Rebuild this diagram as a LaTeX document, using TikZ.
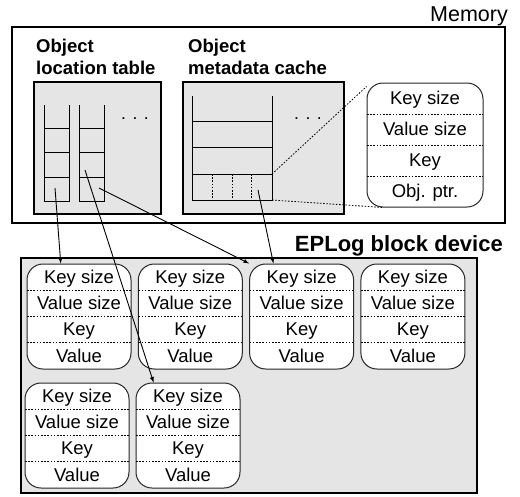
\documentclass[tikz,border=0pt]{standalone}
\usepackage{fontspec}
\setmainfont{Liberation Sans}
\usetikzlibrary{arrows}

\tikzset{
  thickbox/.style={draw, line width=2.6pt, fill=gray!20, inner sep=0pt},
  record/.style={draw=black!85, line width=1pt, fill=white, rounded corners=16pt,
    minimum width=104pt, minimum height=105pt, inner sep=0pt},
  field/.style={anchor=base, inner sep=0pt, font=\fontsize{18.5}{22}\selectfont},
  title/.style={align=left, inner sep=0pt, font=\fontsize{18.5}{22.5}\selectfont\bfseries},
  sep/.style={line width=0.8pt, dash pattern=on 1.6pt off 1.6pt},
  cell/.style={line width=1pt},
  ptr/.style={-latex, line width=0.9pt}
}

\begin{document}
\begin{tikzpicture}[x=1pt, y=-1pt]
\useasboundingbox (0,0) rectangle (520,496);

\node[draw, line width=1.1pt, minimum width=493pt, minimum height=196pt] (mem) at (258.5,125) {};
\node[anchor=base east, inner sep=0pt, font=\fontsize{21.5}{25}\selectfont] (memlbl) at (508,21) {Memory};

\node[title, anchor=base west] (loclbl) at (36,74.5) {Object\\location table};
\node[title, anchor=base west] (cachelbl) at (188,74.5) {Object\\metadata cache};

\node[thickbox, minimum width=127pt, minimum height=132pt] (loc) at (97.5,148) {};
\node[thickbox, minimum width=161pt, minimum height=132pt] (cache) at (263.5,148) {};

% location table columns
\foreach \cx in {44,79} {
  \draw[cell] (\cx,105) -- (\cx,201) -- (\cx+25,201) -- (\cx+25,105);
  \foreach \hy in {128,152,177}
    \draw[cell] (\cx,\hy) -- (\cx+25,\hy);
}
\node[anchor=base, inner sep=0pt, font=\fontsize{17.5}{21}\selectfont] (locdots) at (135,119) {. . .};

% metadata cache entries
\draw[cell] (192,96) -- (192,200) -- (272,200) -- (272,96);
\foreach \hy in {121,147,174}
  \draw[cell] (192,\hy) -- (272,\hy);
\foreach \vx in {212,232,251}
  \draw[sep] (\vx,174) -- (\vx,200);
\node[anchor=base, inner sep=0pt, font=\fontsize{17.5}{21}\selectfont] (cachedots) at (308,119) {. . .};

% cached entry
\node[record, minimum width=116pt, minimum height=124pt] (det) at (425,145) {};
\foreach \t [count=\i] in {Key size, Value size, Key, Obj. ptr.}
  \node[field] (det-\i) at (425, 83-9.5+31*\i) {\t};
\foreach \k in {1,2,3}
  \draw[sep] (367,83+31*\k) -- ++(116,0);

\coordinate (q1) at (272,174);
\coordinate (q2) at (272,200);
\draw[sep] (q1) -- (det.135);
\draw[sep] (q2) -- (det.236);

% block device
\node[anchor=base east, inner sep=0pt, font=\fontsize{22}{26}\selectfont\bfseries] (devlbl) at (503,251.5) {EPLog block device};
\node[thickbox, minimum width=456pt, minimum height=235pt] (dev) at (249,375.5) {};

\foreach \n/\x/\y in {r1/79/316.5, r2/190.3/316.5, r3/301.6/316.5, r4/412.9/316.5, r5/77/435.5, r6/188/435.5} {
  \node[record] (\n) at (\x,\y) {};
  \foreach \t [count=\i] in {Key size, Value size, Key, Value}
    \node[field] (\n-\i) at (\x, \y-59.3+26.25*\i) {\t};
  \foreach \k in {1,2,3}
    \draw[sep] (\x-52,\y-52.5+26.25*\k) -- ++(104,0);
}

\coordinate (p1) at (55,188);
\coordinate (p2) at (85,170);
\coordinate (p3) at (99,188);
\coordinate (p4) at (258,190);

\draw[ptr] (p1) -- (r1.109);
\draw[ptr] (p2) -- (r6.123);
\draw[ptr] (p3) -- (r3.north west);
\draw[ptr] (p4) -- (r3.118);
\end{tikzpicture}
\end{document}
